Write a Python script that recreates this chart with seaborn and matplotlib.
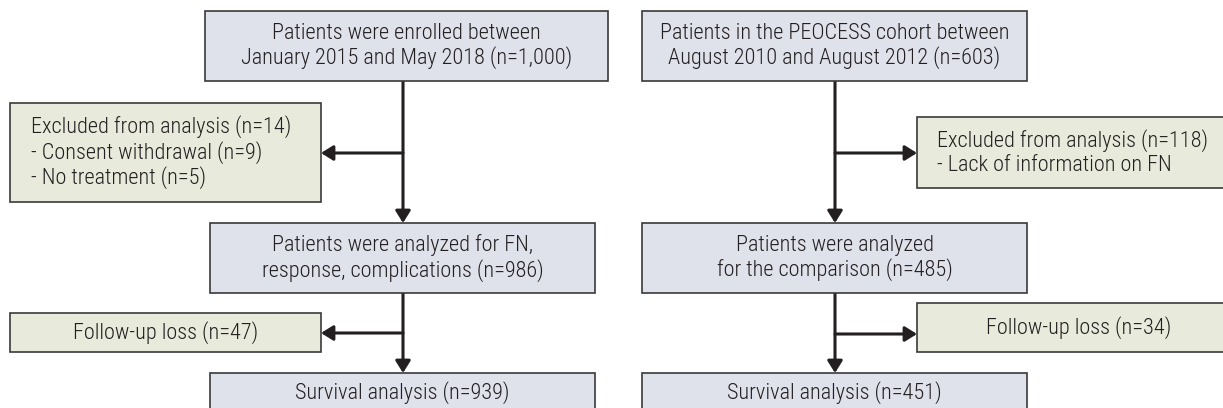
import matplotlib
matplotlib.use("Agg")
import matplotlib.pyplot as plt
import seaborn as sns
from matplotlib.patches import Rectangle

# ---- content -----------------------------------------------------------
main_left = [
    "Patients were enrolled between\nJanuary 2015 and May 2018 (n=1,000)",
    "Patients were analyzed for FN,\nresponse, complications (n=986)",
    "Survival analysis (n=939)",
]
side_left = [
    "Excluded from analysis (n=14)\n- Consent withdrawal (n=9)\n- No treatment (n=5)",
    "Follow-up loss (n=47)",
]
main_right = [
    "Patients in the PEOCESS cohort between\nAugust 2010 and August 2012 (n=603)",
    "Patients were analyzed\nfor the comparison (n=485)",
    "Survival analysis (n=451)",
]
side_right = [
    "Excluded from analysis (n=118)\n- Lack of information on FN",
    "Follow-up loss (n=34)",
]

# ---- style --------------------------------------------------------------
sns.set_style("white")
plt.rcParams["font.family"] = ["Roboto Condensed", "DejaVu Sans"]

BLUE = "#dfe1eb"
GREEN = "#e8ebdc"
EDGE = "#3a3a3a"
LINE = "#231f20"
TXT = "#231f20"
FS = 16

fig = plt.figure(figsize=(12.23, 4.08), dpi=100)
ax = fig.add_axes([0, 0, 1, 1])
ax.set_xlim(0, 1223)
ax.set_ylim(408, 0)
ax.axis("off")


def box(x0, y0, x1, y1, color, text, ha="center", pad=20):
    ax.add_patch(Rectangle((x0, y0), x1 - x0, y1 - y0, facecolor=color,
                           edgecolor=EDGE, linewidth=1.2, zorder=2))
    tx = (x0 + x1) / 2 if ha == "center" else x0 + pad
    ax.text(tx, (y0 + y1) / 2, text, ha=ha, va="center", fontsize=FS,
            fontweight="light", color=TXT, linespacing=1.15,
            multialignment=ha, zorder=3)


def arrow(x0, y0, x1, y1):
    ax.annotate("", xy=(x1, y1), xytext=(x0, y0),
                arrowprops=dict(arrowstyle="-|>,head_length=0.4,head_width=0.25",
                                color=LINE, lw=2.2, shrinkA=0, shrinkB=0,
                                mutation_scale=18), zorder=1)


# left flow
box(205, 11, 608, 81, BLUE, main_left[0])
box(210, 223, 595, 293, BLUE, main_left[1])
box(210, 373, 595, 413, BLUE, main_left[2])
box(10, 103, 321, 202, GREEN, side_left[0], ha="left", pad=21)
box(10, 313, 321, 352, GREEN, side_left[1])
arrow(403, 81, 403, 223)
arrow(403, 153, 321, 153)
arrow(403, 293, 403, 373)
arrow(403, 333, 321, 333)

# right flow
box(642, 11, 1027, 81, BLUE, main_right[0])
box(642, 223, 1027, 293, BLUE, main_right[1])
box(642, 373, 1027, 413, BLUE, main_right[2])
box(917, 117, 1240, 188, GREEN, side_right[0], ha="left", pad=20)
box(917, 303, 1240, 352, GREEN, side_right[1], ha="center")
arrow(835, 81, 835, 223)
arrow(835, 153, 917, 153)
arrow(835, 293, 835, 373)
arrow(835, 334, 917, 334)

fig.savefig("out.png", dpi=100)
